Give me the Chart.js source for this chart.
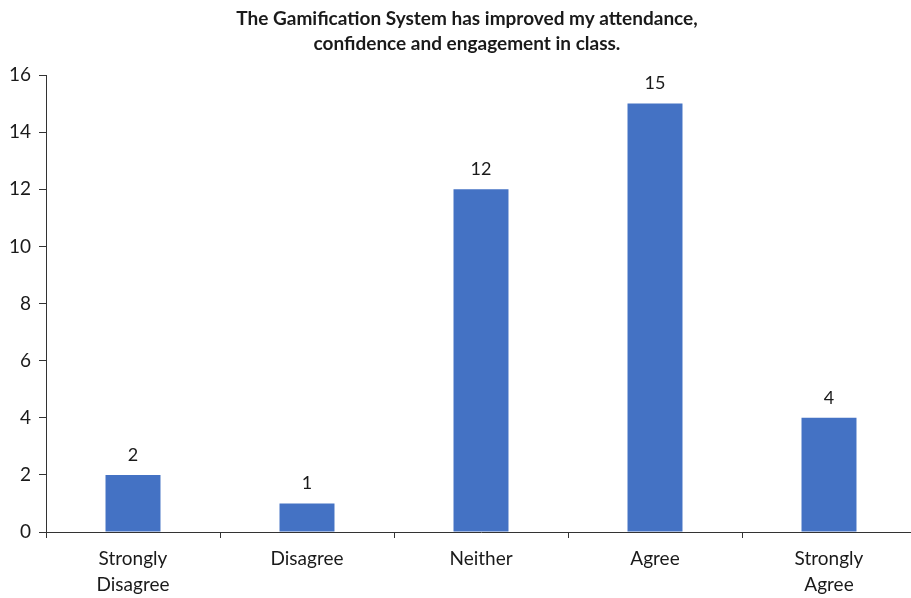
<!DOCTYPE html>
<html>
<head>
<meta charset="utf-8">
<script src="https://cdn.jsdelivr.net/npm/chart.js@4/dist/chart.umd.min.js"></script>
<style>
  html, body { margin: 0; padding: 0; background: #fff; overflow: hidden; }
  #wrap { width: 916px; height: 598px; }
</style>
</head>
<body>
<div id="wrap"><canvas id="chart-bar"></canvas></div>
<script>
'use strict';
// data
var categories = [['Strongly', 'Disagree'], 'Disagree', 'Neither', 'Agree', ['Strongly', 'Agree']];
var responses = [2, 1, 12, 15, 4];
var titleLines = ['The Gamification System has improved my attendance,', 'confidence and engagement in class.'];

var inkColor = '#1a1a1a';
var barColor = '#4472C4';
var fontFamily = 'Lato, "Open Sans", sans-serif';

// [ title, drawn by hand so it sits slightly right of the canvas centre ]
var chartTitle = {
    id: 'chartTitle',
    afterDraw: function(chart) {
        var ctx = chart.ctx;
        ctx.save();
        ctx.font = 'bold 19px ' + fontFamily;
        ctx.fillStyle = inkColor;
        ctx.textAlign = 'center';
        ctx.textBaseline = 'alphabetic';
        titleLines.forEach(function(line, i) {
            ctx.fillText(line, 467, 25 + i * 25);
        });
        ctx.restore();
    }
};

// [ value labels above bars ]
var valueLabels = {
    id: 'valueLabels',
    afterDatasetsDraw: function(chart) {
        var ctx = chart.ctx;
        var meta = chart.getDatasetMeta(0);
        ctx.save();
        ctx.font = '18px ' + fontFamily;
        ctx.fillStyle = inkColor;
        ctx.textAlign = 'center';
        ctx.textBaseline = 'middle';
        meta.data.forEach(function(bar, i) {
            ctx.fillText(String(chart.data.datasets[0].data[i]), bar.x, bar.y - 20);
        });
        ctx.restore();
    }
};

var bar = document.getElementById('chart-bar').getContext('2d');
var myBarChart = new Chart(bar, {
    type: 'bar',
    data: {
        labels: categories,
        datasets: [{
            data: responses,
            backgroundColor: barColor,
            borderColor: barColor,
            borderWidth: 0,
            categoryPercentage: 1,
            barPercentage: 0.316
        }]
    },
    options: {
        responsive: true,
        maintainAspectRatio: false,
        animation: false,
        layout: { padding: { left: 0, right: 0, top: 75, bottom: 0 } },
        plugins: {
            legend: { display: false },
            tooltip: { enabled: false },
            title: { display: false }
        },
        scales: {
            x: {
                grid: { display: true, drawOnChartArea: false, drawTicks: true, tickLength: 6, color: '#333', offset: true },
                border: { display: true, color: '#333', width: 1 },
                ticks: {
                    color: inkColor,
                    font: { family: fontFamily, size: 19, lineHeight: '26px' },
                    padding: 8,
                    maxRotation: 0,
                    autoSkip: false
                },
                afterFit: function(scale) { scale.height = 66; }
            },
            y: {
                min: 0,
                max: 16,
                grid: { display: true, drawOnChartArea: false, drawTicks: true, tickLength: 7, color: '#333' },
                border: { display: true, color: '#333', width: 1 },
                ticks: {
                    stepSize: 2,
                    color: inkColor,
                    font: { family: fontFamily, size: 19 },
                    padding: 8
                },
                afterFit: function(scale) { scale.width = 46; }
            }
        }
    },
    plugins: [chartTitle, valueLabels]
});
</script>
</body>
</html>
